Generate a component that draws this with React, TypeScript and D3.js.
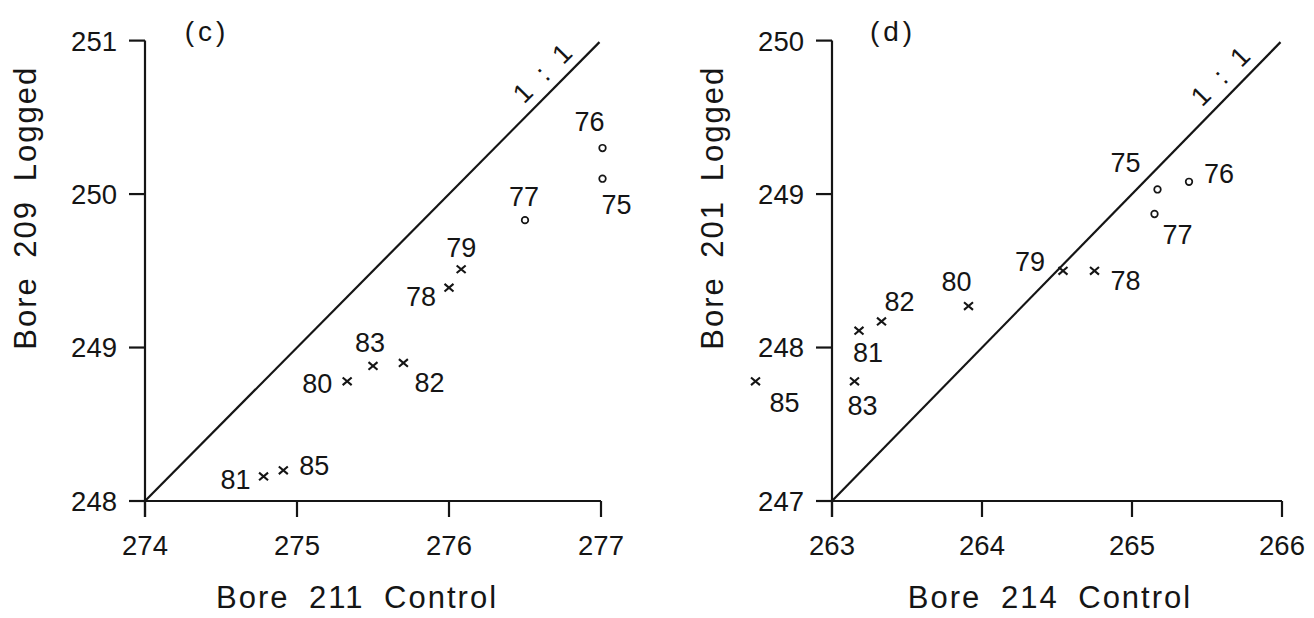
import React from "react";
import * as d3 from "d3";

// ---- data ----
const years = ["75", "76", "77", "78", "79", "80", "81", "82", "83", "85"];
const markerKind = ["o", "o", "o", "x", "x", "x", "x", "x", "x", "x"];

// panel (c)
const bore211Control = [277.01, 277.01, 276.5, 276.0, 276.08, 275.33, 274.78, 275.7, 275.5, 274.91];
const bore209Logged = [250.1, 250.3, 249.83, 249.39, 249.51, 248.78, 248.16, 248.9, 248.88, 248.2];
const xTicksC = [274, 275, 276, 277];
const yTicksC = [248, 249, 250, 251];

// panel (d)
const bore214Control = [265.17, 265.38, 265.15, 264.75, 264.54, 263.91, 263.18, 263.33, 263.15, 262.49];
const bore201Logged = [249.03, 249.08, 248.87, 248.5, 248.5, 248.27, 248.11, 248.17, 247.78, 247.78];
const xTicksD = [263, 264, 265, 266];
const yTicksD = [247, 248, 249, 250];

// ---- layout (label placement offsets, px) ----
const labelOffsetC: Record<string, [number, number]> = {
  "75": [14, 26], "76": [-13, -27], "77": [-1, -24], "78": [-28, 9], "79": [0, -22],
  "80": [-30, 2], "81": [-28, 3], "82": [26, 19], "83": [-3, -24], "85": [31, -5],
};
const labelOffsetD: Record<string, [number, number]> = {
  "75": [-32, -27], "76": [30, -9], "77": [23, 20], "78": [31, 9], "79": [-33, -10],
  "80": [-12, -25], "81": [9, 22], "82": [18, -20], "83": [8, 24], "85": [29, 21],
};

const FONT = "'Liberation Sans', Arial, Helvetica, sans-serif";
const INK = "#151515";

type PanelProps = {
  tag: string;
  xs: number[];
  ys: number[];
  xTicks: number[];
  yTicks: number[];
  xRange: [number, number];
  yRange: [number, number];
  xTitle: string;
  yTitle: string;
  offsets: Record<string, [number, number]>;
  xTitleX: number;
  yTitleX: number;
  tagPos: [number, number];
  ratioPos: [number, number];
};

function Panel(p: PanelProps) {
  const x = d3.scaleLinear().domain([p.xTicks[0], p.xTicks[p.xTicks.length - 1]]).range(p.xRange);
  const y = d3.scaleLinear().domain([p.yTicks[0], p.yTicks[p.yTicks.length - 1]]).range(p.yRange);
  const x0 = p.xRange[0];
  const y0 = p.yRange[0];
  const tickLen = 16;
  const shift = p.xTicks[0] - p.yTicks[0];
  const oneLine = d3.line<number>()
    .x((v) => x(v))
    .y((v) => y(v - shift));
  const lineDomain = [p.xTicks[0], p.xTicks[p.xTicks.length - 1] - 0.01];
  const sw = 2.2;
  return (
    <g fontFamily={FONT} fill={INK}>
      {/* axes */}
      <line x1={x0} x2={x0} y1={p.yRange[1]} y2={y0 + tickLen} stroke={INK} strokeWidth={sw} />
      <line x1={x0 - tickLen} x2={p.xRange[1]} y1={y0} y2={y0} stroke={INK} strokeWidth={sw} />
      {p.yTicks.map((t) => (
        <g key={"yt" + t}>
          <line x1={x0 - tickLen} x2={x0} y1={y(t)} y2={y(t)} stroke={INK} strokeWidth={sw} />
          <text x={x0 - 28} y={y(t)} dy="0.36em" textAnchor="end" fontSize={27.5}>{t}</text>
        </g>
      ))}
      {p.xTicks.map((t) => (
        <g key={"xt" + t}>
          <line x1={x(t)} x2={x(t)} y1={y0} y2={y0 + tickLen} stroke={INK} strokeWidth={sw} />
          <text x={x(t)} y={y0 + 44} dy="0.36em" textAnchor="middle" fontSize={27.5}>{t}</text>
        </g>
      ))}
      {/* titles */}
      <text x={p.xTitleX} y={y0 + 96} dy="0.36em" textAnchor="middle" fontSize={31}
        letterSpacing={2} wordSpacing={9}>
        {p.xTitle}
      </text>
      <text
        transform={`translate(${p.yTitleX},${(p.yRange[0] + p.yRange[1]) / 2 - 63}) rotate(-90)`}
        dy="0.36em" textAnchor="middle" fontSize={31} letterSpacing={2} wordSpacing={8}
      >
        {p.yTitle}
      </text>
      <text x={p.tagPos[0]} y={p.tagPos[1]} dy="0.36em" textAnchor="middle" fontSize={28} letterSpacing={4}>{p.tag}</text>
      {/* 1:1 line */}
      <path d={oneLine(lineDomain) || ""} fill="none" stroke={INK} strokeWidth={sw} />
      <text
        transform={`translate(${p.ratioPos[0]},${p.ratioPos[1]}) rotate(-45)`}
        dy="0.36em" textAnchor="middle" fontSize={27} wordSpacing={9}
      >
        {"1 : 1"}
      </text>
      {/* points */}
      {years.map((yr, i) => {
        const cx = x(p.xs[i]);
        const cy = y(p.ys[i]);
        const [dx, dy] = p.offsets[yr];
        return (
          <g key={yr}>
            {markerKind[i] === "o" ? (
              <circle cx={cx} cy={cy} r={3.3} fill="none" stroke={INK} strokeWidth={1.7} />
            ) : (
              <path
                d={`M${cx - 4.5},${cy - 3.8}L${cx + 4.5},${cy + 3.8}M${cx - 4.5},${cy + 3.8}L${cx + 4.5},${cy - 3.8}`}
                stroke={INK} strokeWidth={2.1} fill="none"
              />
            )}
            <text x={cx + dx} y={cy + dy} dy="0.36em" textAnchor="middle" fontSize={27}>{yr}</text>
          </g>
        );
      })}
    </g>
  );
}

export default function App() {
  return (
    <svg width={1314} height={618} style={{ position: "absolute", left: 0, top: 0, background: "#fff" }}>
      <rect width={1314} height={618} fill="#fff" />
      <Panel
        tag="(c)"
        xs={bore211Control}
        ys={bore209Logged}
        xTicks={xTicksC}
        yTicks={yTicksC}
        xRange={[145, 601]}
        yRange={[501, 40.6]}
        xTitle="Bore 211 Control"
        yTitle="Bore 209 Logged"
        offsets={labelOffsetC}
        xTitleX={357}
        yTitleX={25}
        tagPos={[207, 31]}
        ratioPos={[542, 73]}
      />
      <Panel
        tag="(d)"
        xs={bore214Control}
        ys={bore201Logged}
        xTicks={xTicksD}
        yTicks={yTicksD}
        xRange={[832, 1282]}
        yRange={[501, 40.6]}
        xTitle="Bore 214 Control"
        yTitle="Bore 201 Logged"
        offsets={labelOffsetD}
        xTitleX={1050}
        yTitleX={712}
        tagPos={[893, 31]}
        ratioPos={[1220, 76]}
      />
    </svg>
  );
}
